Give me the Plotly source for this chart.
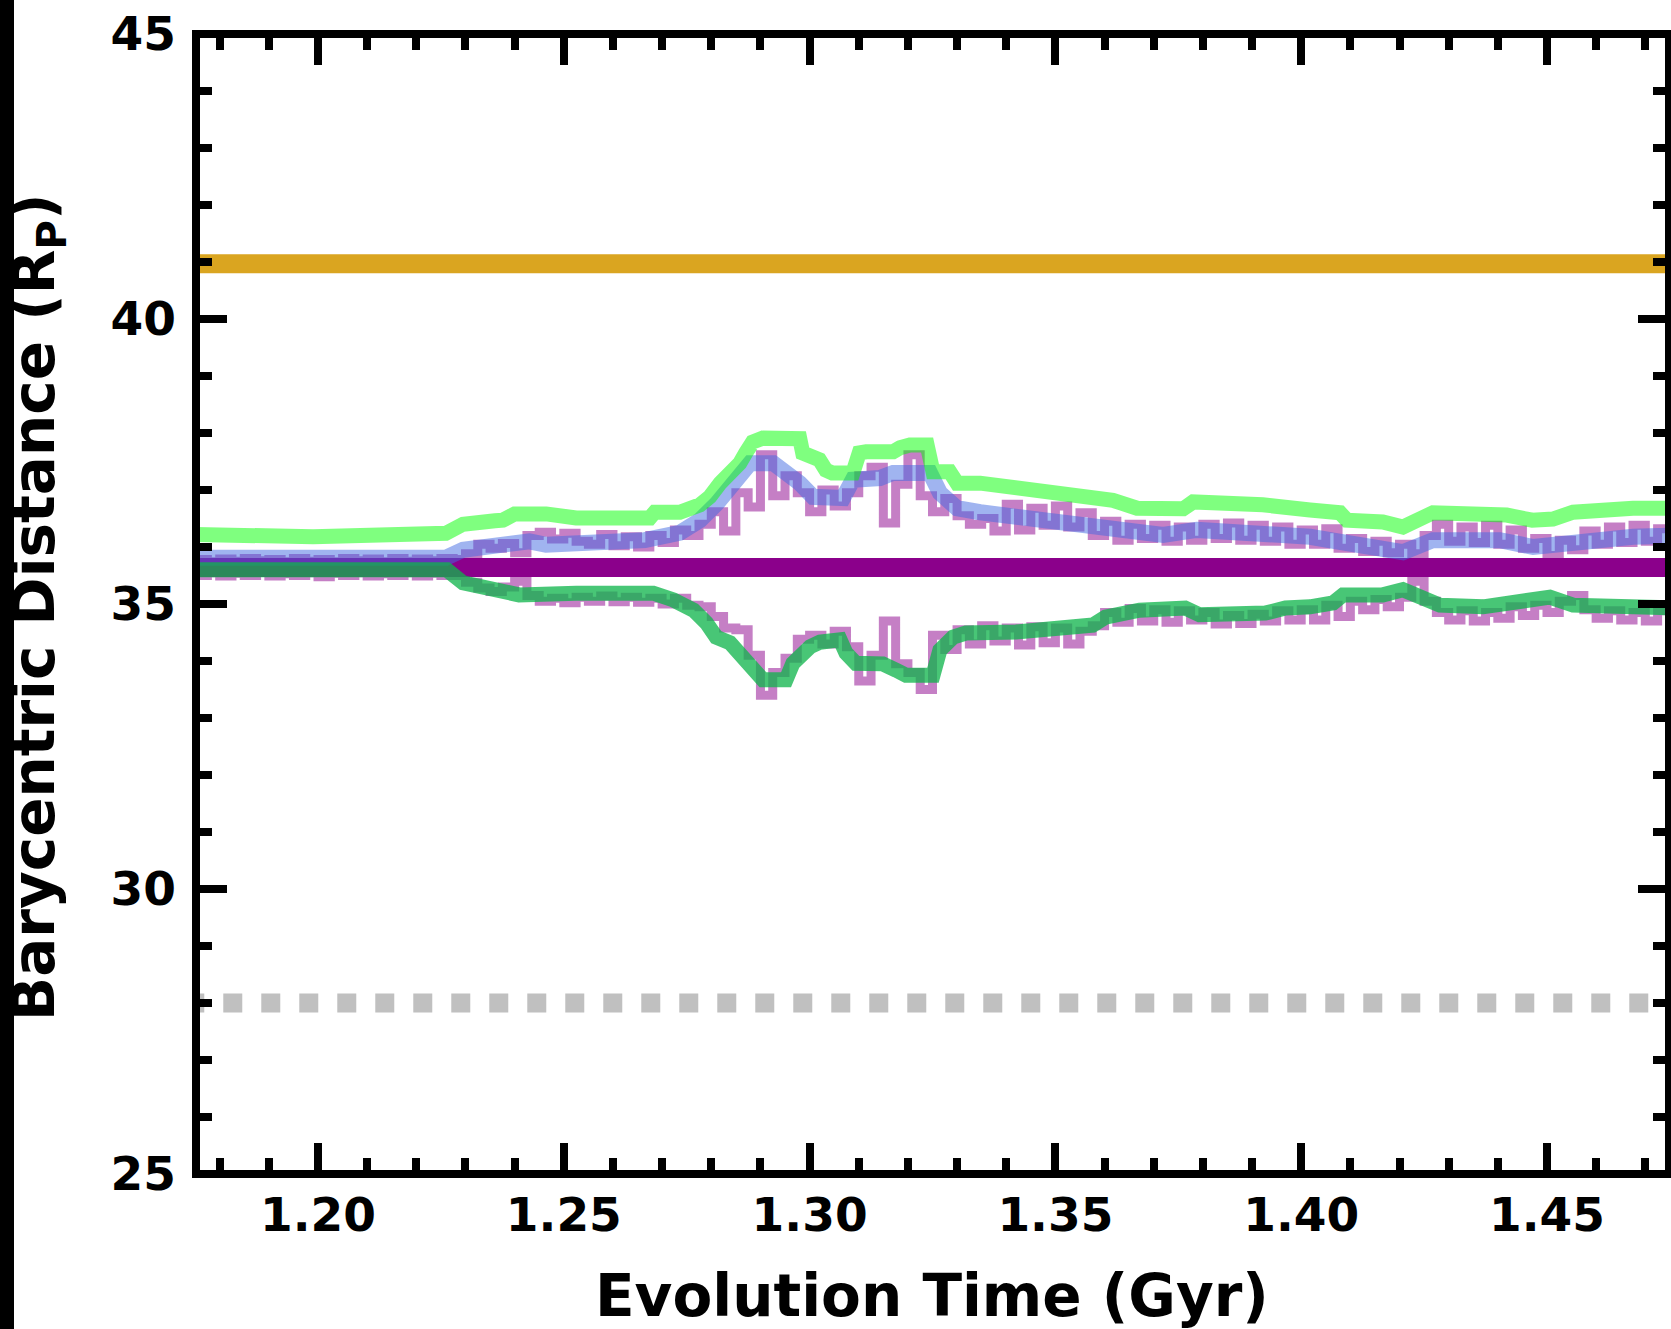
import plotly.graph_objects as go

# ---------------- data ----------------
# constant reference levels (R_P)
level_gold = 40.97
level_purple = 35.64
level_gray = 28.0

# upper envelope (lime)
lime_x = [1.175, 1.199, 1.226, 1.2295, 1.236, 1.2376, 1.240, 1.2464, 1.2525, 1.2675, 1.2685, 1.2736,
          1.2777, 1.2797, 1.2818, 1.2838, 1.2858, 1.2870, 1.2884, 1.2905, 1.2959, 1.2980, 1.2986,
          1.3020, 1.3033, 1.3046, 1.3088, 1.3101, 1.3115, 1.3170, 1.3184, 1.3204, 1.3239, 1.3251,
          1.3285, 1.3300, 1.3347, 1.3448, 1.3550, 1.3617, 1.3666, 1.3760, 1.3780, 1.3855, 1.3922,
          1.4018, 1.4079, 1.4093, 1.4166, 1.4207, 1.4255, 1.4268, 1.4418, 1.4470, 1.4512, 1.4553,
          1.4675, 1.476]
lime_y = [36.22, 36.18, 36.24, 36.40, 36.46, 36.47, 36.58, 36.58, 36.51, 36.51, 36.61, 36.61,
          36.74, 36.88, 37.12, 37.26, 37.47, 37.65, 37.84, 37.91, 37.93, 37.90, 37.65,
          37.53, 37.35, 37.30, 37.30, 37.65, 37.67, 37.67, 37.74, 37.79, 37.79, 37.32,
          37.32, 37.12, 37.12, 37.00, 36.91, 36.82, 36.68, 36.67, 36.79, 36.77, 36.74,
          36.65, 36.60, 36.47, 36.44, 36.35, 36.53, 36.60, 36.56, 36.47, 36.49, 36.61,
          36.68, 36.68]

# mean (blue)
blue_x = [1.175, 1.226, 1.2295, 1.2362, 1.2397, 1.2430, 1.2464, 1.2525, 1.2665, 1.2736, 1.2777,
          1.2812, 1.2832, 1.2858, 1.2879, 1.2926, 1.2954, 1.2980, 1.3007, 1.3068, 1.3088, 1.3143,
          1.3170, 1.3245, 1.3265, 1.3300, 1.3347, 1.3448, 1.3550, 1.3617, 1.3719, 1.3788, 1.3890,
          1.4018, 1.4093, 1.4166, 1.4207, 1.4268, 1.4404, 1.4472, 1.4553, 1.4675, 1.476]
blue_y = [35.81, 35.81, 35.95, 36.04, 36.12, 36.10, 36.04, 36.07, 36.12, 36.25, 36.47,
          36.77, 37.00, 37.30, 37.47, 37.47, 37.30, 37.12, 36.88, 36.86, 37.18, 37.21,
          37.30, 37.30, 36.95, 36.68, 36.61, 36.51, 36.42, 36.33, 36.21, 36.30, 36.26,
          36.18, 36.07, 36.00, 35.91, 36.12, 36.12, 36.00, 36.09, 36.18, 36.20]

# lower envelope (green)
green_x = [1.175, 1.2262, 1.2295, 1.2327, 1.2362, 1.2388, 1.2409, 1.2525, 1.2682, 1.2723, 1.2764,
           1.2790, 1.2810, 1.2838, 1.2864, 1.2884, 1.2905, 1.2952, 1.2966, 1.3001, 1.3021, 1.3062,
           1.3074, 1.3094, 1.3149, 1.3176, 1.3196, 1.3251, 1.3265, 1.3292, 1.3318, 1.3420, 1.3521,
           1.3576, 1.3602, 1.3671, 1.3764, 1.3793, 1.3927, 1.3968, 1.4018, 1.4065, 1.4085, 1.4166,
           1.4207, 1.4236, 1.4282, 1.4370, 1.4472, 1.4506, 1.4553, 1.4675, 1.476]
green_y = [35.60, 35.60, 35.37, 35.30, 35.28, 35.19, 35.16, 35.19, 35.19, 35.07, 34.89,
           34.67, 34.42, 34.32, 34.07, 33.79, 33.67, 33.67, 33.96, 34.25, 34.33, 34.37,
           34.14, 33.96, 33.95, 33.84, 33.75, 33.75, 34.19, 34.42, 34.49, 34.51, 34.60,
           34.63, 34.77, 34.89, 34.93, 34.81, 34.84, 34.93, 34.95, 35.02, 35.16, 35.16,
           35.25, 35.12, 34.98, 34.95, 35.12, 35.12, 34.98, 34.93, 34.93]

# instantaneous apocentre / pericentre (noisy, purple) on a 0.0025 Gyr grid
noisy_t = [1.175, 1.1775, 1.180, 1.1825, 1.185, 1.1875, 1.190, 1.1925, 1.195, 1.1975,
           1.200, 1.2025, 1.205, 1.2075, 1.210, 1.2125, 1.215, 1.2175, 1.220, 1.2225,
           1.225, 1.2275, 1.230, 1.2325, 1.235, 1.2375, 1.240, 1.2425, 1.245, 1.2475,
           1.250, 1.2525, 1.255, 1.2575, 1.260, 1.2625, 1.265, 1.2675, 1.270, 1.2725,
           1.275, 1.2775, 1.280, 1.2825, 1.285, 1.2875, 1.290, 1.2925, 1.295, 1.2975,
           1.300, 1.3025, 1.305, 1.3075, 1.310, 1.3125, 1.315, 1.3175, 1.320, 1.3225,
           1.325, 1.3275, 1.330, 1.3325, 1.335, 1.3375, 1.340, 1.3425, 1.345, 1.3475,
           1.350, 1.3525, 1.355, 1.3575, 1.360, 1.3625, 1.365, 1.3675, 1.370, 1.3725,
           1.375, 1.3775, 1.380, 1.3825, 1.385, 1.3875, 1.390, 1.3925, 1.395, 1.3975,
           1.400, 1.4025, 1.405, 1.4075, 1.410, 1.4125, 1.415, 1.4175, 1.420, 1.4225,
           1.425, 1.4275, 1.430, 1.4325, 1.435, 1.4375, 1.440, 1.4425, 1.445, 1.4475,
           1.450, 1.4525, 1.455, 1.4575, 1.460, 1.4625, 1.465, 1.4675, 1.470, 1.4725,
           1.475]
noisy_upper = [35.78, 35.74, 35.79, 35.75, 35.80, 35.76, 35.78, 35.74, 35.80, 35.75,
               35.78, 35.74, 35.80, 35.76, 35.79, 35.74, 35.80, 35.75, 35.79, 35.76,
               35.80, 35.78, 35.88, 36.05, 35.98, 36.06, 35.90, 36.20, 36.26, 36.14,
               36.24, 36.10, 36.05, 36.22, 36.02, 36.18, 36.00, 36.20, 36.08, 36.30,
               36.20, 36.40, 36.62, 36.28, 36.95, 36.70, 37.62, 36.90, 37.25, 36.95,
               36.62, 37.00, 36.72, 36.95, 37.25, 37.40, 36.42, 37.10, 37.62, 36.90,
               36.62, 36.85, 36.55, 36.40, 36.50, 36.28, 36.75, 36.30, 36.68, 36.38,
               36.72, 36.35, 36.60, 36.20, 36.45, 36.12, 36.40, 36.15, 36.38, 36.10,
               36.35, 36.12, 36.40, 36.15, 36.42, 36.12, 36.38, 36.10, 36.35, 36.05,
               36.30, 36.05, 36.32, 35.98, 36.15, 35.92, 36.10, 35.90, 36.05, 35.88,
               36.20, 36.40, 36.10, 36.35, 36.08, 36.38, 36.05, 36.30, 35.98, 36.15,
               35.85, 36.12, 35.95, 36.28, 36.05, 36.35, 36.08, 36.38, 36.10, 36.32,
               36.15]
noisy_lower = [35.50, 35.55, 35.49, 35.54, 35.50, 35.56, 35.49, 35.53, 35.50, 35.55,
               35.48, 35.54, 35.50, 35.55, 35.49, 35.53, 35.50, 35.55, 35.49, 35.54,
               35.50, 35.50, 35.38, 35.28, 35.22, 35.30, 35.40, 35.15, 35.05, 35.10,
               35.02, 35.12, 35.05, 35.14, 35.04, 35.12, 35.03, 35.10, 35.00, 35.10,
               34.98, 34.95, 34.78, 34.58, 34.55, 34.10, 33.40, 33.80, 34.05, 34.38,
               34.45, 34.30, 34.52, 34.25, 33.65, 34.10, 34.70, 33.95, 33.80, 33.50,
               34.45, 34.20, 34.55, 34.30, 34.62, 34.35, 34.58, 34.28, 34.60, 34.32,
               34.58, 34.30, 34.52, 34.62, 34.85, 34.68, 34.92, 34.70, 34.90, 34.68,
               34.88, 34.72, 34.85, 34.65, 34.80, 34.66, 34.82, 34.70, 34.88, 34.72,
               34.90, 34.72, 34.98, 34.78, 35.05, 34.90, 35.08, 34.95, 35.12, 35.40,
               35.05, 34.85, 34.72, 34.88, 34.70, 34.85, 34.75, 34.95, 34.80, 34.98,
               34.85, 35.05, 35.15, 34.90, 34.75, 34.88, 34.72, 34.85, 34.70, 34.88,
               34.78]

x_extent = [1.170, 1.480]
gray_start = [1.1730, 1.480]

x_tick_vals = [1.20, 1.25, 1.30, 1.35, 1.40, 1.45]
x_tick_text = ["1.20", "1.25", "1.30", "1.35", "1.40", "1.45"]
y_tick_vals = [25, 30, 35, 40, 45]
y_tick_text = ["25", "30", "35", "40", "45"]

# ---------------- figure ----------------
W, H = 1671, 1329
L, R, T, B = 196, 2, 34, 155
pw, ph = W - L - R, H - T - B

fig = go.Figure()

fig.add_trace(go.Scatter(x=gray_start, y=[level_gray] * 2, mode="lines",
                         line=dict(color="#c0c0c0", width=19, dash="19px,19px"), hoverinfo="skip"))
fig.add_trace(go.Scatter(x=x_extent, y=[level_gold] * 2, mode="lines",
                         line=dict(color="#daa520", width=19), hoverinfo="skip"))
fig.add_trace(go.Scatter(x=x_extent, y=[level_purple] * 2, mode="lines",
                         line=dict(color="#8b008b", width=19), hoverinfo="skip"))
fig.add_trace(go.Scatter(x=noisy_t, y=noisy_upper, mode="lines",
                         line=dict(color="rgba(139,0,139,0.5)", width=9, shape="hv"), hoverinfo="skip"))
fig.add_trace(go.Scatter(x=noisy_t, y=noisy_lower, mode="lines",
                         line=dict(color="rgba(139,0,139,0.5)", width=9, shape="hv"), hoverinfo="skip"))
fig.add_trace(go.Scatter(x=blue_x, y=blue_y, mode="lines",
                         line=dict(color="rgba(65,105,225,0.5)", width=16), hoverinfo="skip"))
fig.add_trace(go.Scatter(x=lime_x, y=lime_y, mode="lines",
                         line=dict(color="rgba(0,255,0,0.5)", width=15), hoverinfo="skip"))
fig.add_trace(go.Scatter(x=green_x, y=green_y, mode="lines",
                         line=dict(color="rgba(15,180,75,0.76)", width=15), hoverinfo="skip"))

tickfont = dict(family="DejaVu Sans", size=47, color="black", weight="bold")
common = dict(showgrid=False, zeroline=False, showline=False, mirror="allticks",
              ticks="inside", ticklen=31, tickwidth=8, tickcolor="black",
              tickfont=tickfont)

fig.update_xaxes(range=[1.17518, 1.47482], tickmode="array", tickvals=x_tick_vals,
                 ticktext=x_tick_text, ticklabelstandoff=9,
                 minor=dict(ticks="inside", ticklen=16, tickwidth=8, tickcolor="black",
                            dtick=0.01, tick0=1.2, showgrid=False),
                 **common)
fig.update_yaxes(range=[25, 45], tickmode="array", tickvals=y_tick_vals,
                 ticktext=y_tick_text, ticklabelstandoff=19,
                 minor=dict(ticks="inside", ticklen=16, tickwidth=8, tickcolor="black",
                            dtick=1, tick0=25, showgrid=False),
                 **common)

fig.update_layout(
    width=W, height=H,
    margin=dict(l=L, r=R, t=T, b=B, autoexpand=False),
    paper_bgcolor="white", plot_bgcolor="white",
    showlegend=False,
    shapes=[
        dict(type="rect", xref="paper", yref="paper", x0=0, x1=1, y0=0, y1=1,
             line=dict(color="black", width=8), fillcolor="rgba(0,0,0,0)", layer="above"),
        dict(type="rect", xref="paper", yref="paper", x0=-L / pw, x1=(14 - L) / pw,
             y0=-B / ph - 0.05, y1=1 + T / ph + 0.05,
             line=dict(width=0), fillcolor="black", layer="above"),
    ],
    annotations=[
        dict(text="Evolution Time (Gyr)", xref="paper", yref="paper",
             x=(932 - L) / pw, y=(H - B - 1296) / ph, xanchor="center", yanchor="middle",
             showarrow=False, font=dict(family="DejaVu Sans", size=58, color="black", weight="bold")),
        dict(text="Barycentric Distance (R<sub>P</sub>)", xref="paper", yref="paper",
             x=(38 - L) / pw, y=(H - B - 607) / ph, xanchor="center", yanchor="middle",
             textangle=-90, showarrow=False,
             font=dict(family="DejaVu Sans", size=58, color="black", weight="bold")),
    ],
)

fig.write_html("out.html")
